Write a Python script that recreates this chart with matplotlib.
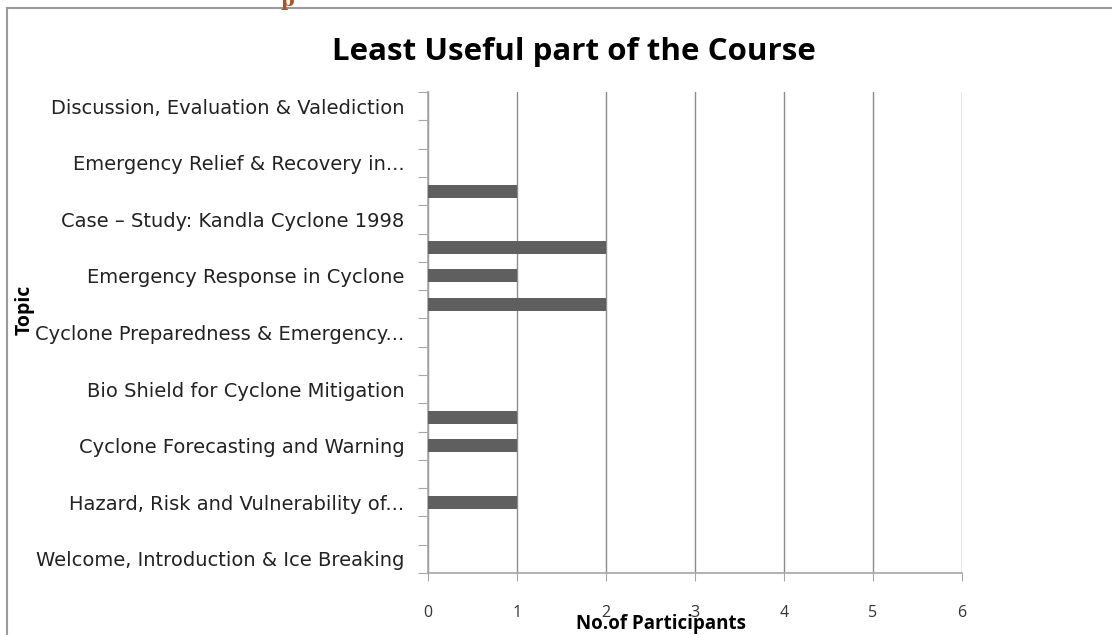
import numpy as np
import matplotlib
matplotlib.use('Agg')
import matplotlib.pyplot as plt

plt.rcParams['font.family'] = ['Open Sans', 'DejaVu Sans']

# categories from bottom to top; only every other one is labelled in the chart
topics = [
    'Welcome, Introduction & Ice Breaking', '',
    'Hazard, Risk and Vulnerability of...', '',
    'Cyclone Forecasting and Warning', '',
    'Bio Shield for Cyclone Mitigation', '',
    'Cyclone Preparedness & Emergency...', '',
    'Emergency Response in Cyclone', '',
    'Case \u2013 Study: Kandla Cyclone 1998', '',
    'Emergency Relief & Recovery in...', '',
    'Discussion, Evaluation & Valediction',
]
participants = [0, 0, 1, 0, 1, 1, 0, 0, 0, 2, 1, 2, 0, 1, 0, 0, 0]
x_ticks = [0, 1, 2, 3, 4, 5, 6]

axis_grey = '#a6a6a6'
bar_grey = '#5f5f5f'

fig = plt.figure(figsize=(11.12, 6.35), dpi=100)
ax = fig.add_axes([0.385, 0.0976, 0.48, 0.7574])

pos = np.arange(len(topics)) + 0.5
ax.barh(pos, participants, height=0.46, color=bar_grey, zorder=3)

ax.set_xlim(0, 6)
ax.set_ylim(0, len(topics))
ax.set_xticks(x_ticks)
ax.set_xticklabels([str(t) for t in x_ticks], fontsize=11.5, color='#333333')
ax.tick_params(axis='x', length=6, color=axis_grey, pad=17)

# tick marks sit between categories, labels at category centres
ax.set_yticks(np.arange(len(topics) + 1))
ax.set_yticklabels([])
ax.set_yticks(pos, minor=True)
ax.set_yticklabels(topics, minor=True, fontsize=14, color='#222222',
                   family=['DejaVu Sans'])
ax.tick_params(axis='y', which='minor', length=0, pad=17)
ax.tick_params(axis='y', which='major', length=7, color=axis_grey)

ax.grid(axis='x', color='#8c8c8c', linewidth=1, zorder=0)
for side in ['top', 'right']:
    ax.spines[side].set_visible(False)
for side in ['left', 'bottom']:
    ax.spines[side].set_color(axis_grey)
    ax.spines[side].set_linewidth(1.2)

fig.text(0.516, 0.918, 'Least Useful part of the Course', ha='center',
         va='center', fontsize=22.5, fontweight='bold')
fig.text(0.594, 0.017, 'No.of Participants', ha='center', va='center',
         fontsize=13.5, fontweight='bold')
fig.text(0.022, 0.512, 'Topic', ha='center', va='center', rotation=90,
         fontsize=14, fontweight='bold')

# outer frame of the chart area
frame = plt.Rectangle((0.006, -0.05), 1.2, 1.037, transform=fig.transFigure,
                      fill=False, edgecolor='#9a9a9a', linewidth=1.5)
fig.add_artist(frame)
fig.text(0.258, 0.985, 'p', color='#b4501e', fontsize=14, fontweight='bold',
         family='DejaVu Serif', ha='center', va='bottom')

fig.savefig('out.png', dpi=100)
